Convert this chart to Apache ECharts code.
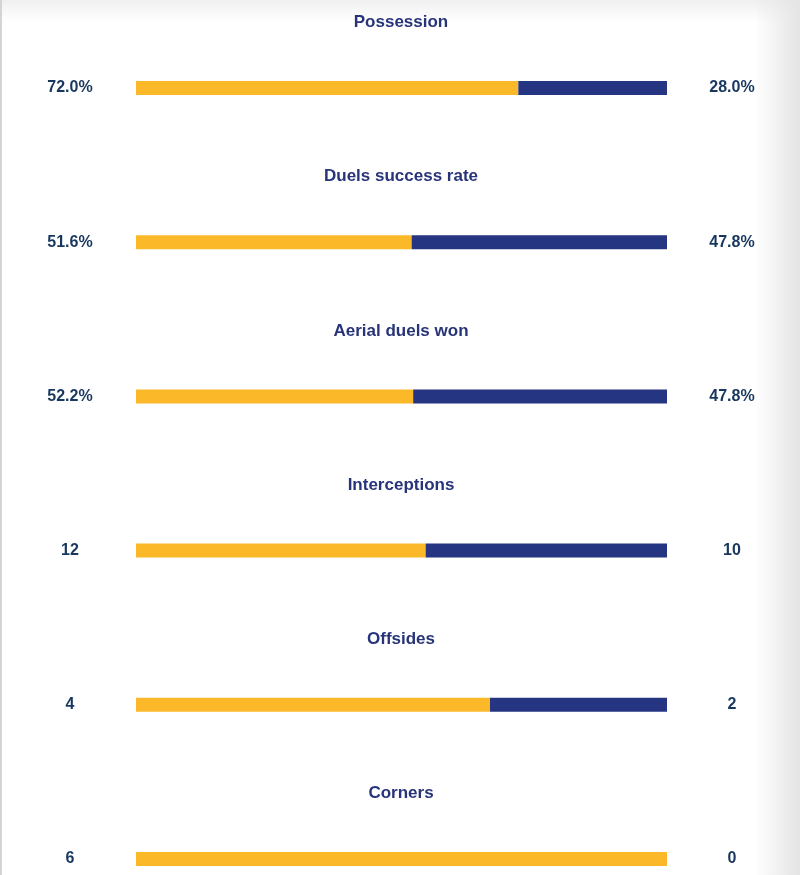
<!DOCTYPE html>
<html>
<head>
<meta charset="utf-8">
<script src="https://cdn.jsdelivr.net/npm/echarts@6/dist/echarts.min.js"></script>
<style>
  html, body { margin: 0; padding: 0; }
  #main {
    width: 800px;
    height: 875px;
    box-sizing: border-box;
    border-left: 2px solid #d4d4d4;
    background:
      linear-gradient(to bottom, #f0f0f0 0px, #ffffff 22px, #ffffff 100%),
      #ffffff;
  }
  #shade {
    position: absolute; top: 0; right: 0; width: 45px; height: 875px;
    background: linear-gradient(to right, rgba(230,230,230,0), rgba(228,228,228,1));
    pointer-events: none;
  }
</style>
</head>
<body>
<div id="main"></div>
<div id="shade"></div>
<script>
// match stats, home (yellow) vs away (navy)
var statNames = ['Possession', 'Duels success rate', 'Aerial duels won', 'Interceptions', 'Offsides', 'Corners']
var homeValues = [72.0, 51.6, 52.2, 12, 4, 6]
var awayValues = [28.0, 47.8, 47.8, 10, 2, 0]
var homeLabels = ['72.0%', '51.6%', '52.2%', '12', '4', '6']
var awayLabels = ['28.0%', '47.8%', '47.8%', '10', '2', '0']

var homeColor = '#fbb829'
var awayColor = '#253581'
var titleColor = '#28347a'
var valueColor = '#17375e'
var font = 'Liberation Sans, Arial, sans-serif'

var chart = echarts.init(document.getElementById('main'))

var grids = []
var xAxes = []
var yAxes = []
var series = []
var titles = []

statNames.forEach(function(name, i) {
  var center = 88 + i * 154.2
  var total = homeValues[i] + awayValues[i]
  grids.push({ left: 134, width: 531, top: center - 7, height: 14 })
  xAxes.push({ gridIndex: i, type: 'value', min: 0, max: 1, show: false })
  yAxes.push({
    gridIndex: i, type: 'category', data: [homeLabels[i]], position: 'left',
    axisLine: { show: false }, axisTick: { show: false },
    axisLabel: { margin: 66, align: 'center', padding: [3, 0, 0, 0], color: valueColor, fontSize: 16, fontWeight: 'bold', fontFamily: font }
  })
  yAxes.push({
    gridIndex: i, type: 'category', data: [awayLabels[i]], position: 'right',
    axisLine: { show: false }, axisTick: { show: false },
    axisLabel: { margin: 65, align: 'center', padding: [3, 0, 0, 0], color: valueColor, fontSize: 16, fontWeight: 'bold', fontFamily: font }
  })
  series.push({
    type: 'bar', xAxisIndex: i, yAxisIndex: i * 2, stack: 's' + i,
    barWidth: 14, silent: true,
    itemStyle: { color: homeColor },
    data: [homeValues[i] / total]
  })
  series.push({
    type: 'bar', xAxisIndex: i, yAxisIndex: i * 2, stack: 's' + i,
    barWidth: 14, silent: true,
    itemStyle: { color: awayColor },
    data: [awayValues[i] / total]
  })
  titles.push({
    text: name, left: 'center', top: center - 79,
    textStyle: { color: titleColor, fontSize: 17, fontWeight: 'bold', fontFamily: font }
  })
})

chart.setOption({
  animation: false,
  title: titles,
  grid: grids,
  xAxis: xAxes,
  yAxis: yAxes,
  series: series
})
</script>
</body>
</html>
